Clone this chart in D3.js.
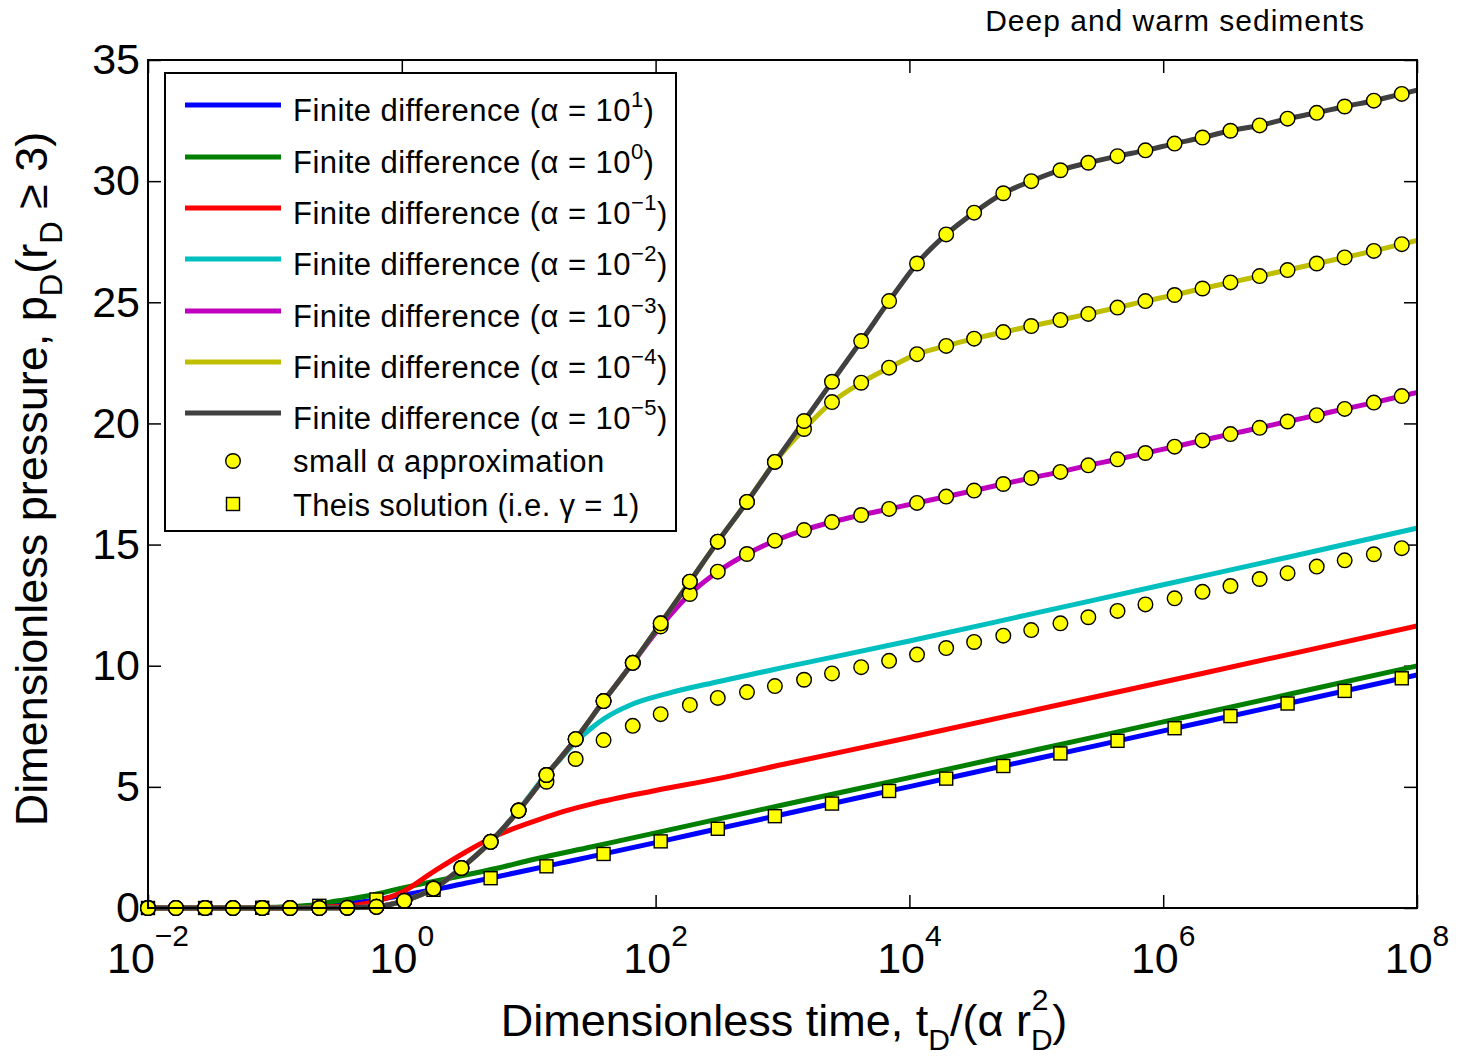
<!DOCTYPE html>
<html><head><meta charset="utf-8">
<script src="https://cdn.jsdelivr.net/npm/d3@7"></script>
<style>body{margin:0;background:#fff} svg{font-family:"Liberation Sans",Arial,Helvetica,sans-serif}</style>
</head><body>
<svg id="chart" width="1464" height="1058"></svg>
<script>
// ---------- DATA (log10 of dimensionless time, pressure values) ----------
const markerLogTime = [-2.00,-1.78,-1.55,-1.33,-1.10,-0.88,-0.65,-0.43,-0.20,0.02,0.25,0.47,0.70,0.92,1.14,1.37,1.59,1.82,2.04,2.27,2.49,2.72,2.94,3.17,3.39,3.62,3.84,4.06,4.29,4.51,4.74,4.96,5.19,5.41,5.64,5.86,6.09,6.31,6.53,6.76,6.98,7.21,7.43,7.66,7.88];
const approx1e5 = [0,0,0,0,0,0,0,0.01,0.05,0.3,0.8,1.65,2.73,4.02,5.49,6.97,8.54,10.12,11.75,13.47,15.12,16.76,18.41,20.1,21.72,23.4,25.05,26.6,27.8,28.7,29.5,30.0,30.45,30.76,31.03,31.27,31.55,31.8,32.08,32.3,32.58,32.82,33.08,33.32,33.6];
const approx1e4 = [0,0,0,0,0,0,0,0.01,0.05,0.3,0.8,1.65,2.73,4.02,5.49,6.97,8.54,10.12,11.75,13.47,15.12,16.76,18.41,19.77,20.88,21.68,22.3,22.86,23.2,23.5,23.77,24.02,24.27,24.52,24.78,25.05,25.3,25.57,25.82,26.08,26.33,26.6,26.85,27.12,27.4];
const approx1e3 = [0,0,0,0,0,0,0,0.01,0.05,0.3,0.8,1.65,2.73,4.02,5.49,6.97,8.54,10.12,11.62,12.96,13.88,14.61,15.16,15.6,15.93,16.22,16.47,16.72,16.98,17.23,17.5,17.75,18.0,18.27,18.52,18.78,19.04,19.3,19.56,19.82,20.08,20.34,20.6,20.86,21.13];
const approx1e2 = [0,0,0,0,0,0,0,0.01,0.05,0.3,0.8,1.65,2.73,4.02,5.21,6.15,6.93,7.52,8.0,8.38,8.67,8.91,9.16,9.42,9.68,9.94,10.2,10.46,10.73,10.98,11.24,11.47,11.75,12.0,12.26,12.53,12.78,13.05,13.29,13.58,13.82,14.09,14.35,14.6,14.85];

const theisLogTime = [-2.00,-1.55,-1.10,-0.65,-0.20,0.25,0.70,1.14,1.59,2.04,2.49,2.94,3.39,3.84,4.29,4.74,5.19,5.64,6.09,6.53,6.98,7.43,7.88];
const theisP = [0,0,0.01,0.09,0.35,0.75,1.23,1.72,2.23,2.75,3.27,3.79,4.31,4.83,5.34,5.86,6.38,6.90,7.42,7.92,8.44,8.96,9.48];

// finite difference curves
const fdLogTime = [-2.00,-1.78,-1.55,-1.33,-1.10,-0.88,-0.65,-0.43,-0.20,0.02,0.25,0.47,0.70,0.92,1.14,1.37,1.59,1.82,2.04,2.27,2.49,2.72,2.94,3.17,3.39,3.62,3.84,4.06,4.29,4.51,4.74,4.96,5.19,5.41,5.64,5.86,6.09,6.31,6.53,6.76,6.98,7.21,7.43,7.66,7.88,8.00];
const fd1e5 = [0,0,0,0,0,0,0,0.01,0.05,0.3,0.8,1.65,2.73,4.02,5.49,6.97,8.54,10.12,11.75,13.47,15.12,16.76,18.41,20.1,21.72,23.4,25.05,26.6,27.8,28.7,29.5,30.0,30.45,30.76,31.03,31.27,31.55,31.8,32.08,32.3,32.58,32.82,33.08,33.32,33.6,33.75];
const fd1e4 = [0,0,0,0,0,0,0,0.01,0.05,0.3,0.8,1.65,2.73,4.02,5.49,6.97,8.54,10.12,11.75,13.47,15.12,16.76,18.41,19.77,20.88,21.68,22.3,22.86,23.2,23.5,23.77,24.02,24.27,24.52,24.78,25.05,25.3,25.57,25.82,26.08,26.33,26.6,26.85,27.12,27.4,27.55];
const fd1e3 = [0,0,0,0,0,0,0,0.01,0.05,0.3,0.8,1.65,2.73,4.02,5.49,6.97,8.54,10.12,11.62,12.96,13.88,14.61,15.16,15.6,15.93,16.22,16.47,16.72,16.98,17.23,17.5,17.75,18.0,18.27,18.52,18.78,19.04,19.3,19.56,19.82,20.08,20.34,20.6,20.86,21.13,21.28];

const fd1e2LogTime = [-2,-1,-0.43,-0.2,0.02,0.25,0.47,0.70,0.92,1.14,1.25,1.37,1.5,1.59,1.82,2.09,2.5,3,4,5,6,7,8];
const fd1e2 = [0,0,0.01,0.05,0.3,0.8,1.65,2.73,4.05,5.52,6.15,6.85,7.45,7.8,8.42,8.85,9.35,9.92,11.02,12.18,13.34,14.5,15.68];

const fd1e1LogTime = [-2,-1,-0.5,-0.25,0,0.25,0.5,0.75,1,1.25,1.5,2,2.5,3,4,5,6,7,8];
const fd1e1 = [0,0,0.06,0.22,0.65,1.5,2.3,3.0,3.5,3.95,4.3,4.85,5.35,5.92,7.04,8.18,9.33,10.48,11.64];

const fd1e0LogTime = [-2,-1.25,-1,-0.75,-0.5,-0.25,0,0.25,0.5,0.75,1,1.5,2,2.5,3,4,5,6,7,8];
const fd1e0 = [0,0.01,0.03,0.1,0.3,0.52,0.82,1.1,1.36,1.64,1.96,2.53,3.1,3.68,4.25,5.38,6.53,7.68,8.83,9.99];

const fd10LogTime = [-2,-1.25,-1,-0.75,-0.5,-0.25,0,0.25,0.5,0.75,1,1.25,1.5,2,2.5,3,4,5,6,7,8];
const fd10 = [0,0.002,0.012,0.055,0.16,0.30,0.52,0.75,1.02,1.29,1.57,1.85,2.13,2.70,3.28,3.86,5.01,6.16,7.31,8.46,9.62];

const xTickExp = [-2,0,2,4,6,8];
const xTickLabels = ["−2","0","2","4","6","8"];
const yTicks = [0,5,10,15,20,25,30,35];
const legendExp = ["1","0","−1","−2","−3","−4","−5"];
const lineColors = ["#0000ff","#007f00","#ff0000","#00bfbf","#bf00bf","#bfbf00","#404040"];

// ---------- CHART ----------
const svg = d3.select("#chart");
const L=148, R=1417, T=60, B=908;
const x = d3.scaleLog().domain([1e-2,1e8]).range([L,R]);
const y = d3.scaleLinear().domain([0,35]).range([B,T]);

svg.append("clipPath").attr("id","clip").append("rect").attr("x",L).attr("y",T-20).attr("width",R-L).attr("height",B-T+30);

// ticks
const xt = xTickExp.map(e=>Math.pow(10,e));
svg.append("g").attr("transform",`translate(0,${B})`).call(d3.axisBottom(x).tickValues(xt).tickSize(-13).tickFormat(""))
  .call(g=>{g.select(".domain").remove(); g.selectAll("line").attr("stroke-width",1.5);});
svg.append("g").attr("transform",`translate(0,${T})`).call(d3.axisTop(x).tickValues(xt).tickSize(-13).tickFormat(""))
  .call(g=>{g.select(".domain").remove(); g.selectAll("line").attr("stroke-width",1.5);});
svg.append("g").attr("transform",`translate(${L},0)`).call(d3.axisLeft(y).tickValues(yTicks).tickSize(-13).tickPadding(8).tickFormat(d3.format("d")))
  .call(g=>{g.select(".domain").remove(); g.selectAll("line").attr("stroke-width",1.5);
    g.attr("font-size",43).attr("font-family",null); g.selectAll("text").attr("fill","#000");});
svg.append("g").attr("transform",`translate(${R},0)`).call(d3.axisRight(y).tickValues(yTicks).tickSize(-13).tickFormat(""))
  .call(g=>{g.select(".domain").remove(); g.selectAll("line").attr("stroke-width",1.5);});

// x tick labels with superscripts
xTickExp.forEach((e,i)=>{
  const t = svg.append("text").attr("x",x(Math.pow(10,e))).attr("y",973).attr("text-anchor","middle").attr("font-size",43);
  t.append("tspan").text("10");
  t.append("tspan").attr("dy",-27).attr("font-size",30).text(xTickLabels[i]);
});

// lines
const line = d3.line().x(d=>x(Math.pow(10,d[0]))).y(d=>y(d[1])).curve(d3.curveMonotoneX);
const series = [
  [fd10LogTime, fd10],
  [fd1e0LogTime, fd1e0],
  [fd1e1LogTime, fd1e1],
  [fd1e2LogTime, fd1e2],
  [fdLogTime, fd1e3],
  [fdLogTime, fd1e4],
  [fdLogTime, fd1e5]
];
const gl = svg.append("g").attr("clip-path","url(#clip)");
series.forEach((s,i)=>{
  gl.append("path").datum(s[0].map((t,j)=>[t,s[1][j]])).attr("d",line)
    .attr("fill","none").attr("stroke",lineColors[i]).attr("stroke-width",5).attr("stroke-linejoin","round");
});

// Theis squares
const sq = 13;
svg.append("g").selectAll("rect").data(theisLogTime.map((t,j)=>[t,theisP[j]])).join("rect")
  .attr("x",d=>x(Math.pow(10,d[0]))-sq/2).attr("y",d=>y(d[1])-sq/2).attr("width",sq).attr("height",sq)
  .attr("fill","#ffff00").attr("stroke","#000").attr("stroke-width",1.4);

// small alpha approximation circles
[approx1e2, approx1e3, approx1e4, approx1e5].forEach(arr=>{
  svg.append("g").selectAll("circle").data(markerLogTime.map((t,j)=>[t,arr[j]])).join("circle")
    .attr("cx",d=>x(Math.pow(10,d[0]))).attr("cy",d=>y(d[1])).attr("r",7.3)
    .attr("fill","#ffff00").attr("stroke","#000").attr("stroke-width",1.4);
});

// frame
svg.append("rect").attr("x",L).attr("y",T).attr("width",R-L).attr("height",B-T).attr("fill","none").attr("stroke","#000").attr("stroke-width",2);

// legend
const lg = svg.append("g");
lg.append("rect").attr("x",165).attr("y",73).attr("width",511).attr("height",458).attr("fill","#fff").attr("stroke","#000").attr("stroke-width",2);
const rowY = [105,157,208,259,311,362,413];
legendExp.forEach((e,i)=>{
  lg.append("line").attr("x1",185).attr("x2",281).attr("y1",rowY[i]).attr("y2",rowY[i]).attr("stroke",lineColors[i]).attr("stroke-width",5);
  const t = lg.append("text").attr("x",293).attr("y",rowY[i]+16).attr("font-size",31).attr("letter-spacing",0.45);
  t.append("tspan").text("Finite difference (α = 10");
  t.append("tspan").attr("dy",-14).attr("font-size",22).text(e);
  t.append("tspan").attr("dy",14).text(")");
});
lg.append("circle").attr("cx",233).attr("cy",461).attr("r",7.3).attr("fill","#ffff00").attr("stroke","#000").attr("stroke-width",1.4);
lg.append("text").attr("x",293).attr("y",472).attr("font-size",31).attr("letter-spacing",0.45).text("small α approximation");
lg.append("rect").attr("x",233-sq/2).attr("y",504-sq/2).attr("width",sq).attr("height",sq).attr("fill","#ffff00").attr("stroke","#000").attr("stroke-width",1.4);
lg.append("text").attr("x",293).attr("y",516).attr("font-size",31).attr("letter-spacing",0.3).text("Theis solution (i.e. γ = 1)");

// axis labels
const xl = svg.append("text").attr("x",784).attr("y",1036).attr("text-anchor","middle").attr("font-size",45);
xl.append("tspan").text("Dimensionless time, t");
xl.append("tspan").attr("dy",14).attr("font-size",30).text("D");
xl.append("tspan").attr("dy",-14).text("/(α r");
xl.append("tspan").attr("dy",14).attr("font-size",30).text("D");
xl.append("tspan").attr("dy",-40).attr("dx",-21).attr("font-size",30).text("2");
xl.append("tspan").attr("dy",26).attr("dx",4).text(")");

const yl = svg.append("text").attr("transform","translate(47,479) rotate(-90)").attr("text-anchor","middle").attr("font-size",45);
yl.append("tspan").text("Dimensionless pressure, p");
yl.append("tspan").attr("dy",15).attr("font-size",31).text("D");
yl.append("tspan").attr("dy",-15).text("(r");
yl.append("tspan").attr("dy",15).attr("font-size",31).text("D");
yl.append("tspan").attr("dy",-15).text(" ≥ 3)");

// title
svg.append("text").attr("x",1365).attr("y",31).attr("text-anchor","end").attr("font-size",30).attr("letter-spacing",1).text("Deep and warm sediments");
</script>
</body></html>
